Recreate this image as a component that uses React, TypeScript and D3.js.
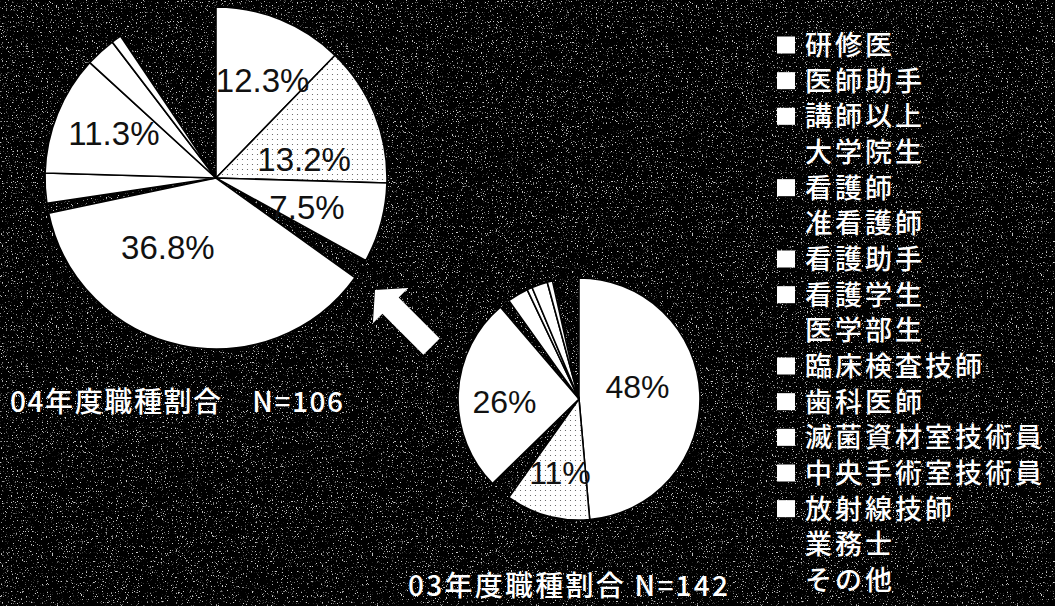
import React from 'react';
import * as d3 from 'd3';

// legend order = slice order (clockwise from 12 o'clock)
const categories = [
  '研修医', '医師助手', '講師以上', '大学院生', '看護師', '准看護師', '看護助手', '看護学生',
  '医学部生', '臨床検査技師', '歯科医師', '滅菌資材室技術員', '中央手術室技術員', '放射線技師', '業務士', 'その他',
];
// the scan is binarised: dark colours went black, mid tones went speckled
const tones = [
  'light', 'dotted', 'light', 'dark', 'light', 'dark', 'light', 'light',
  'dark', 'light', 'light', 'light', 'light', 'light', 'dark', 'dark',
];

// 2004, N=106 (head counts)
const counts04 = [13, 14, 8, 2, 39, 1, 3, 12, 0, 3, 1, 0, 0, 0, 0, 10];
const labels04 = ['12.3%', '13.2%', '7.5%', '', '36.8%', '', '', '11.3%', '', '', '', '', '', '', '', ''];

// 2003, N=142
const counts03 = [69, 16, 0, 4, 37, 2, 4, 1, 0, 3, 1, 0, 0, 0, 0, 5];
const labels03 = ['48%', '11%', '', '', '26%', '', '', '', '', '', '', '', '', '', '', ''];

const title04 = '04年度職種割合　N=106';
const title03 = '03年度職種割合 N=142';

const W = 1055;
const H = 606;

// label nudges from the default label spot (px)
const nudge04: Record<string, [number, number]> = {
  '研修医': [8, -3], '医師助手': [-7, 20], '講師以上': [-8, 2], '看護師': [-27, -31], '看護学生': [-7, -6],
};
const nudge03: Record<string, [number, number]> = {
  '研修医': [-14, -9], '医師助手': [0, 3], '看護師': [-2, 6],
};

// dark slices are left open so the black, speckled ground shows through
const fillFor = (t: string) => (t === 'dark' ? 'none' : t === 'dotted' ? 'url(#dots)' : '#fff');

type PieProps = {
  cx: number; cy: number; r: number;
  counts: number[]; labels: string[];
  nudge: Record<string, [number, number]>;
  fontSize: number;
};

function Pie({ cx, cy, r, counts, labels, nudge, fontSize }: PieProps) {
  const rows = categories.map((c, i) => ({ name: c, count: counts[i], label: labels[i], tone: tones[i] }));
  const pie = d3.pie<typeof rows[0]>().sort(null).value(d => d.count);
  const arcs = pie(rows).filter(a => a.data.count > 0);
  const arc = d3.arc<d3.PieArcDatum<typeof rows[0]>>().innerRadius(0).outerRadius(r);
  const lr = r * 0.6;

  return (
    <g transform={`translate(${cx},${cy})`}>
      {arcs.map(a => (
        <path key={a.data.name} d={arc(a) || ''} fill={fillFor(a.data.tone)}
          stroke={a.data.tone === 'dark' ? 'none' : '#000'} strokeWidth={1.6} />
      ))}
      {arcs.filter(a => a.data.label).map(a => {
        const mid = (a.startAngle + a.endAngle) / 2;
        const [dx, dy] = nudge[a.data.name] || [0, 0];
        const x = Math.sin(mid) * lr + dx;
        const y = -Math.cos(mid) * lr + dy;
        return (
          <text key={a.data.name} x={x} y={y} dy={fontSize * 0.36} textAnchor="middle"
            fontFamily="'Liberation Sans', Arial, sans-serif" fontSize={fontSize} fill="#111">
            {a.data.label}
          </text>
        );
      })}
    </g>
  );
}

export default function App() {
  const legendY = d3.scaleLinear().domain([0, categories.length - 1]).range([45, 580]);
  const jp = "'Noto Sans CJK JP', sans-serif";

  return (
    <svg width={W} height={H} style={{ position: 'fixed', left: 0, top: 0, display: 'block' }}>
      <defs>
        <pattern id="dots" width={5} height={5} patternUnits="userSpaceOnUse">
          <rect width={5} height={5} fill="#fff" />
          <circle cx={1.5} cy={1.5} r={0.6} fill="#555" />
        </pattern>
        <filter id="speckle" x="0" y="0" width="100%" height="100%">
          <feTurbulence type="fractalNoise" baseFrequency="0.8" numOctaves={2} seed={7} />
          <feColorMatrix type="matrix" values="0 0 0 0 1  0 0 0 0 1  0 0 0 0 1  9 0 0 0 -5.7" />
        </filter>
      </defs>

      <rect width={W} height={H} fill="#000" />
      <rect width={W} height={H} filter="url(#speckle)" opacity={0.8} />

      <Pie cx={216} cy={178} r={171} counts={counts04} labels={labels04} nudge={nudge04} fontSize={33} />
      <Pie cx={579} cy={399} r={121} counts={counts03} labels={labels03} nudge={nudge03} fontSize={32} />

      {/* block arrow from the 03 pie towards the 04 pie */}
      <polygon
        transform="translate(375,290) rotate(45)"
        points="0,0 22,-25 22,-11.5 80,-11.5 80,11.5 22,11.5 22,25"
        fill="#fff"
      />

      <text x={10} y={412} fontFamily={jp} fontSize={28} fontWeight={500} fill="#fff"
        textLength={333} lengthAdjust="spacing">{title04}</text>
      <text x={408} y={596} fontFamily={jp} fontSize={28} fontWeight={500} fill="#fff"
        textLength={320} lengthAdjust="spacing">{title03}</text>

      <g>
        {categories.map((c, i) => (
          <g key={c} transform={`translate(0,${legendY(i)})`}>
            <rect x={777} y={-8.5} width={18} height={17} fill={tones[i] === 'dark' ? 'none' : '#fff'} />
            <text x={805} y={10} fontFamily={jp} fontSize={27} fontWeight={500}
              letterSpacing={3} fill="#fff">{c}</text>
          </g>
        ))}
      </g>
    </svg>
  );
}
